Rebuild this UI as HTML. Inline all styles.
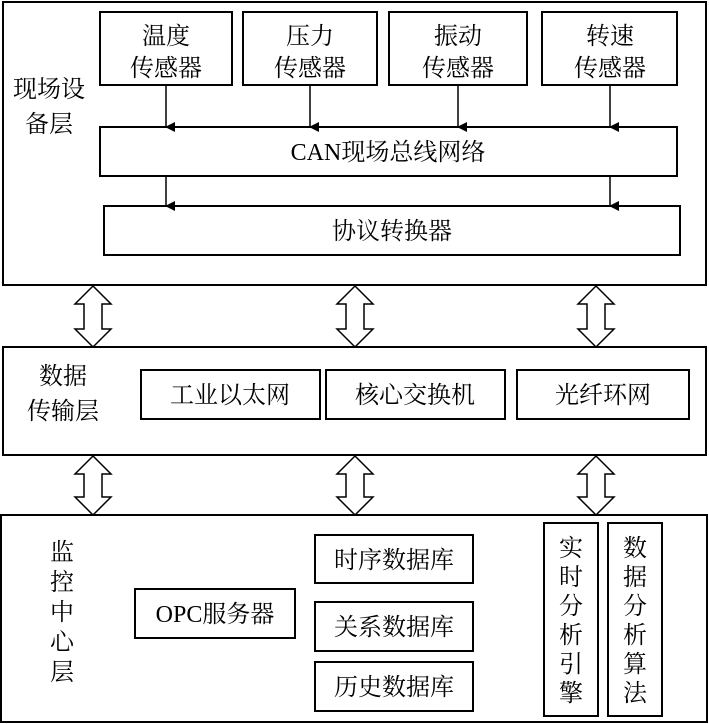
<!DOCTYPE html>
<html><head><meta charset="utf-8"><style>
html,body{margin:0;padding:0;background:#fff;}
svg{display:block}
text{font-family:"Liberation Serif","Noto Serif CJK SC",serif;fill:#000;font-size:24px;}
</style></head><body>
<svg width="709" height="724" viewBox="0 0 709 724" xmlns="http://www.w3.org/2000/svg">
<defs><marker id="a" markerWidth="10" markerHeight="10" refX="5" refY="9" orient="auto" markerUnits="userSpaceOnUse"><path d="M0,0 L10,0 L5,10 z" fill="#000"/></marker></defs>
<g fill="none" stroke="#000" stroke-width="2">
<rect x="3" y="2" width="703" height="283"/>
<rect x="100" y="12" width="132" height="73"/>
<rect x="243" y="12" width="134" height="73"/>
<rect x="389" y="12" width="138" height="73"/>
<rect x="542" y="12" width="135" height="73"/>
<rect x="100" y="127" width="577" height="49"/>
<rect x="104" y="206" width="576" height="49"/>
<rect x="3" y="347" width="703" height="108"/>
<rect x="141" y="370" width="179" height="49"/>
<rect x="326" y="370" width="179" height="49"/>
<rect x="517" y="370" width="172" height="49"/>
<rect x="1" y="515" width="706" height="207"/>
<rect x="135" y="589" width="160" height="49"/>
<rect x="315" y="535" width="158" height="48"/>
<rect x="315" y="602" width="158" height="49"/>
<rect x="315" y="662" width="158" height="49"/>
<rect x="544" y="523" width="54" height="193"/>
<rect x="608" y="523" width="54" height="193"/>
</g>
<g stroke="#000" stroke-width="1.5">
<line x1="166" y1="85" x2="166" y2="127" marker-end="url(#a)"/>
<line x1="310" y1="85" x2="310" y2="127" marker-end="url(#a)"/>
<line x1="458" y1="85" x2="458" y2="127" marker-end="url(#a)"/>
<line x1="610" y1="85" x2="610" y2="127" marker-end="url(#a)"/>
<line x1="166" y1="176" x2="166" y2="206" marker-end="url(#a)"/>
<line x1="610" y1="176" x2="610" y2="206" marker-end="url(#a)"/>
</g>
<g fill="#fff" stroke="#000" stroke-width="1.5">
<path id="d1" d="M93,286 L111,304 L102,304 L102,329 L111,329 L93,347 L75,329 L84,329 L84,304 L75,304 z"/>
<path d="M355,286 L373,304 L364,304 L364,329 L373,329 L355,347 L337,329 L346,329 L346,304 L337,304 z"/>
<path d="M596,286 L614,304 L605,304 L605,329 L614,329 L596,347 L578,329 L587,329 L587,304 L578,304 z"/>
<path d="M93,456 L111,474 L102,474 L102,497 L111,497 L93,515 L75,497 L84,497 L84,474 L75,474 z"/>
<path d="M355,456 L373,474 L364,474 L364,497 L373,497 L355,515 L337,497 L346,497 L346,474 L337,474 z"/>
<path d="M596,456 L614,474 L605,474 L605,497 L614,497 L596,515 L578,497 L587,497 L587,474 L578,474 z"/>
</g>
<g text-anchor="middle">
<text x="166" y="44">温度</text><text x="166" y="76">传感器</text>
<text x="310" y="44">压力</text><text x="310" y="76">传感器</text>
<text x="458" y="44">振动</text><text x="458" y="76">传感器</text>
<text x="610" y="44">转速</text><text x="610" y="76">传感器</text>
<text x="49" y="97">现场设</text><text x="49" y="132">备层</text>
<text x="388" y="160">CAN现场总线网络</text>
<text x="392" y="239">协议转换器</text>
<text x="63" y="384">数据</text><text x="63" y="419">传输层</text>
<text x="230" y="403">工业以太网</text>
<text x="415" y="403">核心交换机</text>
<text x="603" y="403">光纤环网</text>
<text x="215" y="622">OPC服务器</text>
<text x="394" y="568">时序数据库</text>
<text x="394" y="635">关系数据库</text>
<text x="394" y="695">历史数据库</text>
<text x="62" y="560">监</text><text x="62" y="590">控</text><text x="62" y="620">中</text><text x="62" y="650">心</text><text x="62" y="680">层</text>
<text x="571" y="556">实</text><text x="571" y="585">时</text><text x="571" y="614">分</text><text x="571" y="643">析</text><text x="571" y="672">引</text><text x="571" y="701">擎</text>
<text x="635" y="556">数</text><text x="635" y="585">据</text><text x="635" y="614">分</text><text x="635" y="643">析</text><text x="635" y="672">算</text><text x="635" y="701">法</text>
</g>
</svg>
</body></html>
